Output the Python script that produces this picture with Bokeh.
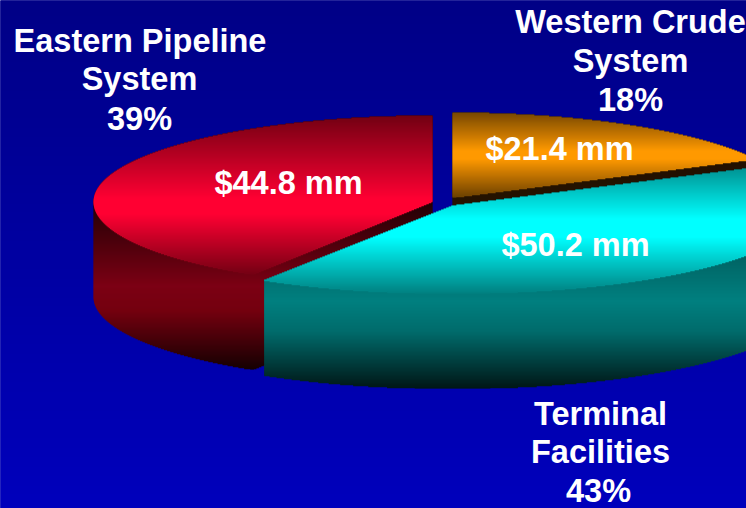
import numpy as np
from bokeh.core.properties import value
from bokeh.embed import file_html
from bokeh.plotting import figure
from bokeh.resources import INLINE

# Operating income by segment, in $ millions
segments = ["Eastern Pipeline System", "Western Crude System", "Terminal Facilities"]
amounts = [44.8, 21.4, 50.2]
shares = [39, 18, 43]

WIDTH, HEIGHT = 746, 508

# Placement of each exploded wedge in the drawing: apex, radii, extrusion depth
wedge_shape = {
    "Eastern Pipeline System": dict(ax=432, ay=201, rx=339, ry=86, depth=95),
    "Western Crude System": dict(ax=452, ay=197, rx=340, ry=85, depth=95),
    "Terminal Facilities": dict(ax=452, ay=205, rx=356, ry=88, depth=95),
}

# Vertical colour ramps (pixel row, hex colour) for top faces and side walls
top_ramp = {
    "Eastern Pipeline System": [(112, "#6e0012"), (198, "#ff0033"), (213, "#ff0033"), (276, "#6e0012")],
    "Western Crude System": [(108, "#6a4000"), (150, "#ff9900"), (158, "#ff9900"), (200, "#5e3800")],
    "Terminal Facilities": [(150, "#006e6e"), (218, "#00ffff"), (236, "#00ffff"), (296, "#007878")],
}
wall_ramp = {
    "Eastern Pipeline System": [(200, "#200004"), (285, "#7c0014"), (310, "#74000f"), (370, "#120002")],
    "Western Crude System": [(150, "#201000"), (300, "#301800")],
    "Terminal Facilities": [(240, "#005a5a"), (300, "#008080"), (330, "#006c6c"), (390, "#001212")],
}


def rgb(h):
    return [int(h[i:i + 2], 16) for i in (1, 3, 5)]


def ramp_colour(stops, row):
    ys = [s[0] for s in stops]
    cols = np.array([rgb(s[1]) for s in stops], dtype=float)
    c = [np.interp(row, ys, cols[:, k]) for k in range(3)]
    return "#%02x%02x%02x" % tuple(int(round(v)) for v in c)


def apparent_angle(deg):
    # The camera sits above the front of the pie, which compresses the near sweep
    return deg + 5.4 * (1 - np.sin(np.radians(deg)))


def wedge_outline(start, end, s):
    # Wedge running clockwise on screen-left from start to end, angles in degrees
    t = np.radians(apparent_angle(np.linspace(start, end, 160)))
    x = np.r_[s["ax"], s["ax"] + s["rx"] * np.cos(t)]
    y = np.r_[s["ay"], s["ay"] - s["ry"] * np.sin(t)]
    return x, y


def row_spans(x, y, shift=0.0):
    # Horizontal extent of a closed convex outline on each pixel row
    y = y + shift
    x2, y2 = np.roll(x, -1), np.roll(y, -1)
    spans = {}
    for row in range(int(np.floor(y.min())), int(np.ceil(y.max())) + 1):
        c = row + 0.5
        hit = (y <= c) != (y2 <= c)
        if hit.any():
            xs = x[hit] + (c - y[hit]) * (x2[hit] - x[hit]) / (y2[hit] - y[hit])
            spans[row] = (xs.min(), xs.max())
    return spans


def fill_rows(p, spans, stops):
    # One band per row; each band runs a little under the next so no seams show
    rows = sorted(spans)
    p.quad(
        left=[spans[r][0] for r in rows],
        right=[spans[r][1] for r in rows],
        top=rows,
        bottom=[r + 1.8 if r != rows[-1] else r + 1 for r in rows],
        fill_color=[ramp_colour(stops, r) for r in rows],
        fill_alpha=1.0,
        line_color=None,
    )


p = figure(
    width=WIDTH, height=HEIGHT, x_range=(0, WIDTH), y_range=(HEIGHT, 0),
    output_backend="svg", toolbar_location=None, min_border=0,
    background_fill_color="#00009c", border_fill_color="#00009c",
)
p.xaxis.visible = False
p.yaxis.visible = False
p.xgrid.visible = False
p.ygrid.visible = False
p.outline_line_color = None

# Backdrop: navy at the top deepening to royal blue at the bottom
bg_rows = list(range(-2, HEIGHT + 2))
p.quad(
    left=-2, right=WIDTH + 2, top=bg_rows, bottom=[r + 2 for r in bg_rows],
    fill_color=[ramp_colour([(0, "#000086"), (508, "#0000bc")], r) for r in bg_rows],
    fill_alpha=1.0,
    line_color=None,
)

# Sweep angles follow the amounts; slices run from twelve o'clock in drawing order
total = sum(amounts)
sweep = {n: 360.0 * a / total for n, a in zip(segments, amounts)}
bounds = {
    "Eastern Pipeline System": (90.0, 90.0 + sweep["Eastern Pipeline System"]),
    "Western Crude System": (90.0 - sweep["Western Crude System"], 90.0),
}
bounds["Terminal Facilities"] = (
    bounds["Eastern Pipeline System"][1],
    bounds["Western Crude System"][0] + 360.0,
)

for name in segments:
    s = wedge_shape[name]
    x, y = wedge_outline(*bounds[name], s)
    # Side wall: the wedge swept down through its depth
    merged = {}
    for d in range(0, s["depth"] + 1):
        for r, (a, b) in row_spans(x, y, d).items():
            lo, hi = merged.get(r, (a, b))
            merged[r] = (min(lo, a), max(hi, b))
    fill_rows(p, merged, wall_ramp[name])
    fill_rows(p, row_spans(x, y), top_ramp[name])

font = value("Liberation Sans")


def label(lines, cx, cys, size):
    p.text(
        x=cx, y=cys, text=lines, text_color="#ffffff", text_alpha=1.0, text_font=font,
        text_font_style="bold", text_font_size=size,
        text_align="center", text_baseline="middle",
    )


# Segment captions with their share of the total
label(["Eastern Pipeline", "System", f"{shares[0]}%"], [139.5, 139, 139], [40, 78, 118], "32.5px")
label(["Western Crude", "System", f"{shares[1]}%"], [630, 630, 630], [21, 60, 99], "32.5px")
label(["Terminal", "Facilities", f"{shares[2]}%"], [600, 600, 598], [413, 451, 490], "32.5px")

# Dollar amounts on the top faces
label([f"${amounts[0]} mm", f"${amounts[1]} mm", f"${amounts[2]} mm"],
      [288, 559, 575], [182, 148, 244], "32.5px")

open("out.html", "w").write(file_html(p, INLINE))
